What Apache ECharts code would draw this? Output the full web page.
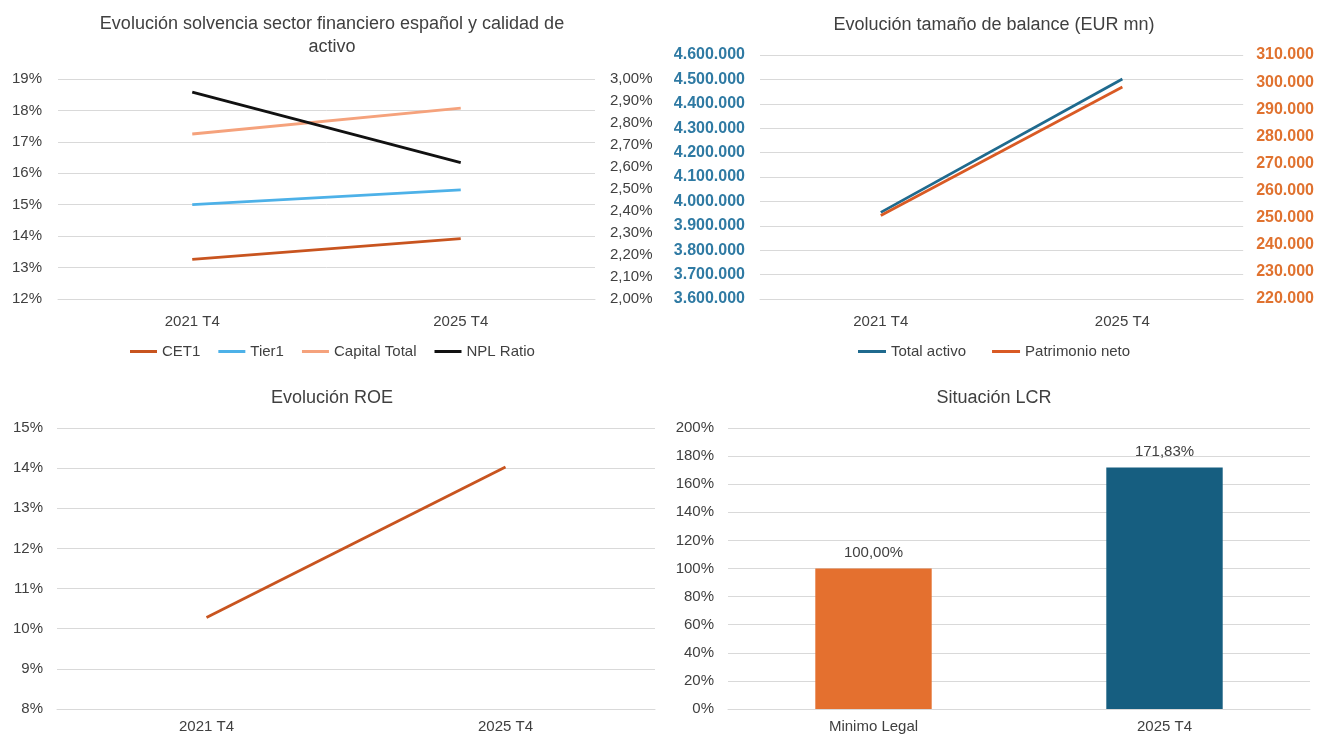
<!DOCTYPE html>
<html>
<head>
<meta charset="utf-8">
<script src="https://cdn.jsdelivr.net/npm/echarts@6/dist/echarts.min.js"></script>
<style>
html,body{margin:0;padding:0;background:#fff;}
#c{width:1317px;height:735px;}
</style>
</head>
<body>
<div id="c"></div>
<script>
// ---- Data ----
const solvCategories = ['2021 T4', '2025 T4'];
const cet1 = [13.26, 13.92];
const tier1 = [15.00, 15.47];
const capitalTotal = [17.25, 18.07];
const nplRatio = [2.94, 2.62];

const balCategories = ['2021 T4', '2025 T4'];
const totalActivo = [3955000, 4502000];
const patrimonioNeto = [250800, 298200];

const roeCategories = ['2021 T4', '2025 T4'];
const roe = [10.28, 14.03];

const lcrCategories = ['Minimo Legal', '2025 T4'];
const lcr = [100.00, 171.83];

// ---- Helpers ----
const FONT = '"Liberation Sans", Arial, sans-serif';
const TXT = '#404040';
const GRID = '#D9D9D9';
function fmtThousands(v){
  return Math.round(v).toString().replace(/\B(?=(\d{3})+(?!\d))/g, '.');
}
function pct0(v){ return Math.round(v) + '%'; }
function pct2(v){ return v.toFixed(2).replace('.', ',') + '%'; }

const catAxis = (gi, data, margin) => ({
  type: 'category', gridIndex: gi, data: data, boundaryGap: true,
  axisLine: {show: true, lineStyle: {color: GRID, width: 1}},
  axisTick: {show: false},
  axisLabel: {color: TXT, fontSize: 15, fontFamily: FONT, margin: margin}
});
const valAxis = (gi, min, max, interval, fmt, extra) => Object.assign({
  type: 'value', gridIndex: gi, min: min, max: max, interval: interval,
  axisLine: {show: false}, axisTick: {show: false},
  splitLine: {show: true, lineStyle: {color: GRID, width: 1}},
  axisLabel: {color: TXT, fontSize: 15, fontFamily: FONT, formatter: fmt, margin: 14}
}, extra || {});

const lineS = (name, data, color, xi, yi, width) => ({
  name: name, type: 'line', data: data, xAxisIndex: xi, yAxisIndex: yi,
  symbol: 'none', lineStyle: {color: color, width: width || 2.8}, itemStyle: {color: color},
  animation: false
});

const titleStyle = {fontFamily: FONT, fontSize: 18, fontWeight: 'normal', color: '#404040', lineHeight: 23};
const legendText = {color: TXT, fontSize: 15, fontFamily: FONT};

const chart = echarts.init(document.getElementById('c'));
chart.setOption({
  backgroundColor: '#fff',
  animation: false,
  title: [
    {text: 'Evolución solvencia sector financiero español y calidad de\nactivo', left: 332, top: 13, textAlign: 'center', padding: 0,
     textStyle: titleStyle},
    {text: 'Evolución tamaño de balance (EUR mn)', left: 994, top: 14, textAlign: 'center', padding: 0,
     textStyle: titleStyle},
    {text: 'Evolución ROE', left: 332, top: 387, textAlign: 'center', padding: 0,
     textStyle: titleStyle},
    {text: 'Situación LCR', left: 994, top: 387, textAlign: 'center', padding: 0,
     textStyle: titleStyle}
  ],
  legend: [
    {data: ['CET1', 'Tier1', 'Capital Total', 'NPL Ratio'], left: 130, top: 344, icon: 'rect',
     itemWidth: 27, itemHeight: 3, itemGap: 18, padding: 0, textStyle: legendText},
    {data: ['Total activo', 'Patrimonio neto'], left: 858, top: 344, icon: 'rect',
     itemWidth: 28, itemHeight: 3, itemGap: 26, padding: 0, textStyle: legendText}
  ],
  grid: [
    {left: 58, right: 722, top: 79, bottom: 436},
    {left: 760, right: 72, top: 55, bottom: 436},
    {left: 57, right: 662, top: 428, bottom: 26},
    {left: 728, right: 7, top: 428, bottom: 26}
  ],
  xAxis: [
    catAxis(0, solvCategories, 15),
    catAxis(1, balCategories, 15),
    catAxis(2, roeCategories, 10),
    catAxis(3, lcrCategories, 10)
  ],
  yAxis: [
    valAxis(0, 12, 19, 1, pct0, {axisLabel: {color: TXT, fontSize: 15, fontFamily: FONT, formatter: pct0, margin: 16}}),
    valAxis(0, 2.0, 3.0, 0.1, pct2, {position: 'right', splitLine: {show: false},
      axisLabel: {color: TXT, fontSize: 15, fontFamily: FONT, formatter: pct2, margin: 15}}),
    valAxis(1, 3600000, 4600000, 100000, fmtThousands,
      {axisLabel: {color: '#2F7AA3', fontSize: 16, fontWeight: 'bold', fontFamily: FONT, formatter: fmtThousands, margin: 15}}),
    valAxis(1, 220000, 310000, 10000, fmtThousands,
      {position: 'right', splitLine: {show: false},
       axisLabel: {color: '#E0722F', fontSize: 16, fontWeight: 'bold', fontFamily: FONT, formatter: fmtThousands, margin: 13}}),
    valAxis(2, 8, 15, 1, pct0, {axisLabel: {color: TXT, fontSize: 15, fontFamily: FONT, formatter: pct0, margin: 14}}),
    valAxis(3, 0, 200, 20, pct0)
  ],
  series: [
    lineS('CET1', cet1, '#C8541F', 0, 0),
    lineS('Tier1', tier1, '#4DB1E8', 0, 0),
    lineS('Capital Total', capitalTotal, '#F5A27C', 0, 0),
    lineS('NPL Ratio', nplRatio, '#111111', 0, 1),
    lineS('Total activo', totalActivo, '#1F6A8E', 1, 2),
    lineS('Patrimonio neto', patrimonioNeto, '#D95A24', 1, 3),
    lineS('ROE', roe, '#C8541F', 2, 4),
    {
      name: 'LCR', type: 'bar', xAxisIndex: 3, yAxisIndex: 5, barWidth: '40%',
      data: lcr.map((v, i) => ({value: v, itemStyle: {color: i === 0 ? '#E4702F' : '#165E80'}})),
      label: {show: true, position: 'top', color: TXT, fontSize: 15, fontFamily: FONT, distance: 8,
              formatter: p => pct2(p.value)},
      animation: false
    }
  ]
});
</script>
</body>
</html>
